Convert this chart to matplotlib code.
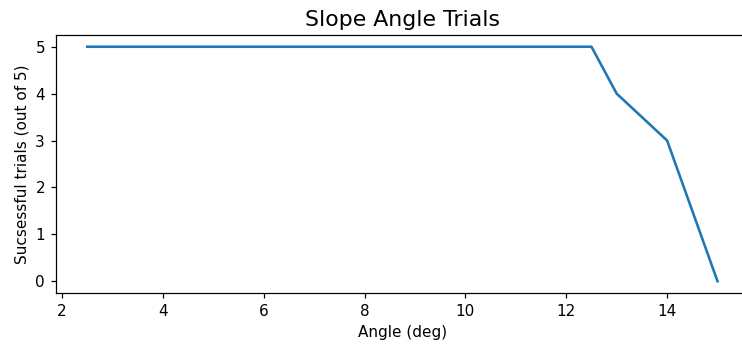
import matplotlib
matplotlib.use("Agg")
from matplotlib import pyplot as plt

angles = [2.5, 3, 3.5, 4, 4.5, 5, 5.5, 6, 6.5, 7, 7.5, 8, 8.5, 9, 9.5, 10,
          10.5, 11, 11.5, 12, 12.5, 13, 14, 15]
successes = [5, 5, 5, 5, 5, 5, 5, 5, 5, 5, 5, 5, 5, 5, 5, 5,
             5, 5, 5, 5, 5, 4, 3, 0]

dpi = 110
fig = plt.figure(figsize=(742 / dpi, 347 / dpi), dpi=dpi)
ax = fig.add_axes([0.0751, 0.1556, 0.9344, 0.7435])
ax.plot(angles, successes, linewidth=1.7)
ax.set_title('Slope Angle Trials', fontsize=14.4)
ax.set_xlabel('Angle (deg)')
ax.set_ylabel('Sucsessful trials (out of 5)')

fig.savefig('out.png', dpi=dpi)
